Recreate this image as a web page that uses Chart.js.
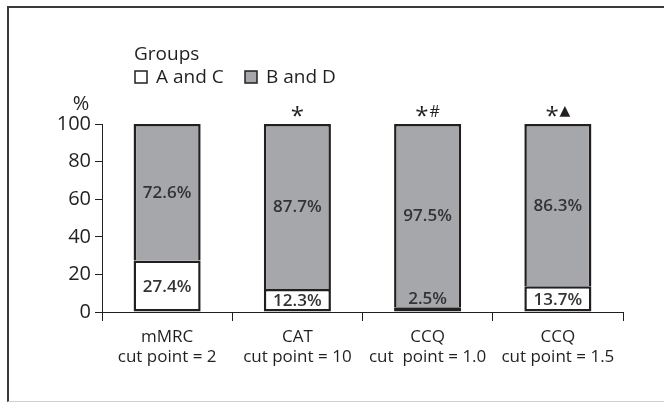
<!DOCTYPE html>
<html>
<head>
<meta charset="utf-8">
<script src="https://cdn.jsdelivr.net/npm/chart.js@4/dist/chart.umd.min.js"></script>
<style>
  html, body { margin: 0; padding: 0; background: #ffffff; }
  #wrap { position: relative; width: 664px; height: 404px; overflow: hidden; }
  #frame {
    position: absolute; left: 7px; top: 6px; right: -4px; bottom: 2px;
    border-left: 2px solid #3a3a3a; border-top: 2px solid #3a3a3a;
    border-bottom: 1px solid #d0d0d0;
  }
  canvas { position: absolute; left: 0; top: 0; }
</style>
</head>
<body>
<div id="wrap">
  <div id="frame"></div>
  <canvas id="c" width="664" height="404"></canvas>
</div>
<script>
// Categories (two-line axis labels)
const categories = [
  ['mMRC', 'cut point = 2'],
  ['CAT', 'cut point = 10'],
  ['CCQ', 'cut  point = 1.0'],
  ['CCQ', 'cut point = 1.5']
];
// Percentage of patients in each group
const groupAC = [27.4, 12.3, 2.5, 13.7];
const groupBD = [72.6, 87.7, 97.5, 86.3];
// Significance markers shown above each bar
const markers = ['', '*', '*#', '*\u25B2'];
const yTicks = [0, 20, 40, 60, 80, 100];

const INK = '#231f20';
const GRAY = '#a6a7aa';
const FONT = "'Open Sans', 'Noto Sans', sans-serif";

// Value labels inside each segment
const valueLabels = {
  id: 'valueLabels',
  afterDatasetsDraw(chart) {
    const ctx = chart.ctx;
    ctx.save();
    ctx.font = `600 17px ${FONT}`;
    ctx.fillStyle = '#333333';
    ctx.textAlign = 'center';
    ctx.textBaseline = 'middle';
    chart.data.datasets.forEach((ds, di) => {
      const meta = chart.getDatasetMeta(di);
      meta.data.forEach((bar, i) => {
        const v = ds.data[i];
        const top = Math.min(bar.y, bar.base);
        const h = Math.abs(bar.base - bar.y);
        let y = top + h / 2;
        if (h < 18) y = top - 9;
        ctx.fillText(v.toFixed(1) + '%', bar.x, y + 1);
      });
    });
    ctx.restore();
  }
};

// Markers above bars, "%" unit label and the group legend
const extras = {
  id: 'extras',
  afterDraw(chart) {
    const ctx = chart.ctx;
    const meta = chart.getDatasetMeta(1);
    ctx.save();
    // markers
    markers.forEach((m, i) => {
      if (!m) return;
      const chars = Array.from(m);
      const fonts = chars.map(ch => ch === '*' ? `24px ${FONT}` : (ch === '#' ? `16px ${FONT}` : `14px 'DejaVu Sans', sans-serif`));
      const widths = chars.map((ch, k) => { ctx.font = fonts[k]; return ctx.measureText(ch).width; });
      const gap = 1;
      const total = widths.reduce((a, b) => a + b, 0) + gap * (chars.length - 1);
      let x = meta.data[i].x - total / 2;
      const cy = 111;
      chars.forEach((ch, k) => {
        ctx.font = fonts[k];
        const mm = ctx.measureText(ch);
        const asc = mm.actualBoundingBoxAscent, desc = mm.actualBoundingBoxDescent;
        ctx.fillStyle = INK;
        ctx.textAlign = 'left';
        ctx.textBaseline = 'alphabetic';
        ctx.fillText(ch, x, cy + (asc - desc) / 2);
        x += widths[k] + gap;
      });
    });
    // unit label
    ctx.font = `20px ${FONT}`;
    ctx.fillStyle = INK;
    ctx.textAlign = 'center';
    ctx.textBaseline = 'middle';
    ctx.fillText('%', 81, 104);
    // legend
    ctx.textAlign = 'left';
    ctx.font = `19px ${FONT}`;
    ctx.fillText('Groups', 134, 55);
    const items = [
      { label: chart.data.datasets[0].label, color: chart.data.datasets[0].backgroundColor, x: 135 },
      { label: chart.data.datasets[1].label, color: chart.data.datasets[1].backgroundColor, x: 245 }
    ];
    items.forEach(it => {
      ctx.fillStyle = it.color;
      ctx.fillRect(it.x, 71, 12, 12);
      ctx.strokeStyle = INK;
      ctx.lineWidth = 1.5;
      ctx.strokeRect(it.x, 71, 12, 12);
      ctx.fillStyle = INK;
      ctx.fillText(it.label, it.x + 21, 78);
    });
    ctx.restore();
  }
};

new Chart(document.getElementById('c'), {
  type: 'bar',
  data: {
    labels: categories,
    datasets: [
      { label: 'A and C', data: groupAC, backgroundColor: '#ffffff', borderColor: INK,
        borderWidth: { top: 2.5, left: 2.5, right: 2.5, bottom: 2.5 }, borderSkipped: false },
      { label: 'B and D', data: groupBD, backgroundColor: GRAY, borderColor: INK,
        borderWidth: { top: 2.5, left: 2.5, right: 2.5, bottom: 0 }, borderSkipped: false }
    ]
  },
  options: {
    responsive: false,
    animation: false,
    devicePixelRatio: 1,
    layout: { padding: { top: 124, right: 41, left: 0, bottom: 0 } },
    barPercentage: 0.515,
    categoryPercentage: 1,
    plugins: { legend: { display: false }, tooltip: { enabled: false } },
    scales: {
      x: {
        stacked: true,
        afterFit(s) { s.height = 92; },
        grid: { offset: true, drawOnChartArea: false, drawTicks: true, tickLength: 9, color: INK, lineWidth: 1 },
        border: { display: true, color: INK, width: 1 },
        ticks: { color: INK, font: { family: FONT, size: 17, lineHeight: 1.2 }, padding: 6, maxRotation: 0 }
      },
      y: {
        stacked: true,
        min: 0, max: 100,
        afterFit(s) { s.width = 102; },
        afterBuildTicks(s) { s.ticks = yTicks.map(v => ({ value: v })); },
        grid: { drawOnChartArea: false, drawTicks: true, tickLength: 7, color: INK, lineWidth: 1 },
        border: { display: true, color: INK, width: 1 },
        ticks: { color: INK, font: { family: FONT, size: 20 }, padding: 4 }
      }
    }
  },
  plugins: [valueLabels, extras]
});
</script>
</body>
</html>
